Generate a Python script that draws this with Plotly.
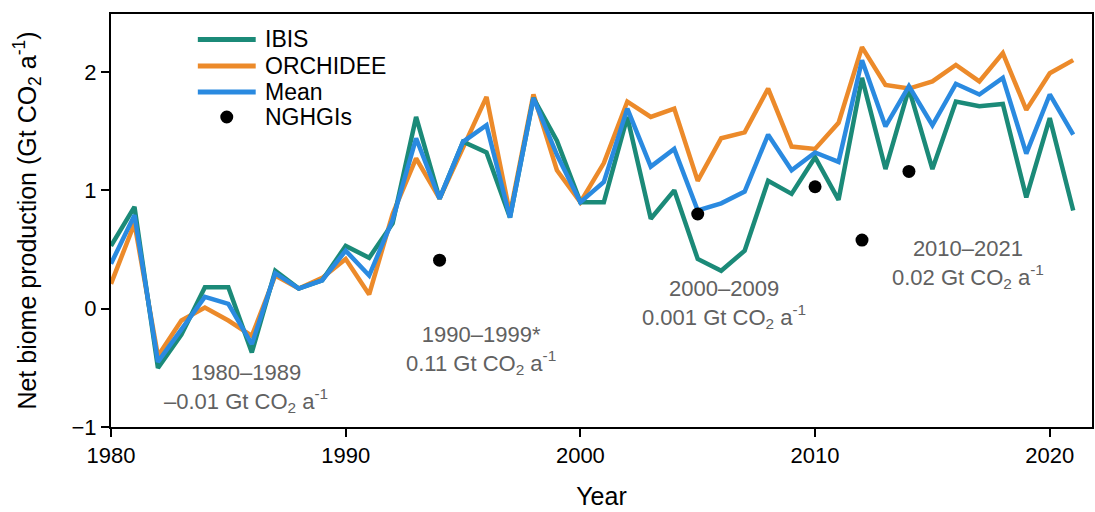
import plotly.graph_objects as go

years = list(range(1980, 2022))
ibis = [0.53, 0.86, -0.50, -0.22, 0.18, 0.18, -0.37, 0.32, 0.17, 0.24,
        0.53, 0.43, 0.72, 1.62, 0.93, 1.41, 1.32, 0.77, 1.78, 1.42,
        0.90, 0.90, 1.62, 0.76, 1.00, 0.42, 0.32, 0.49, 1.08, 0.97,
        1.28, 0.92, 1.95, 1.18, 1.86, 1.18, 1.75, 1.71, 1.73, 0.94,
        1.61, 0.83]
orchidee = [0.21, 0.72, -0.40, -0.10, 0.01, -0.10, -0.23, 0.28, 0.17, 0.26,
            0.42, 0.12, 0.80, 1.27, 0.93, 1.37, 1.79, 0.80, 1.81, 1.17,
            0.90, 1.23, 1.75, 1.62, 1.69, 1.08, 1.44, 1.49, 1.86, 1.37,
            1.35, 1.57, 2.21, 1.89, 1.86, 1.92, 2.06, 1.92, 2.16, 1.68,
            1.99, 2.10]
mean = [0.38, 0.79, -0.45, -0.18, 0.10, 0.04, -0.30, 0.30, 0.17, 0.24,
        0.49, 0.28, 0.75, 1.44, 0.93, 1.41, 1.55, 0.77, 1.78, 1.30,
        0.90, 1.07, 1.69, 1.20, 1.35, 0.83, 0.89, 0.99, 1.47, 1.17,
        1.32, 1.24, 2.10, 1.54, 1.88, 1.55, 1.90, 1.81, 1.95, 1.31,
        1.81, 1.47]
nghgi_years = [1994, 2005, 2010, 2012, 2014]
nghgi_vals = [0.41, 0.80, 1.03, 0.58, 1.16]

ann_x = [1985.75, 1995.75, 2006.1, 2016.5]
ann_y = [-0.67, -0.35, 0.04, 0.38]
ann_text = [
    "1980–1989<br>–0.01 Gt CO<sub>2</sub> a<sup>-1</sup>",
    "1990–1999*<br>0.11 Gt CO<sub>2</sub> a<sup>-1</sup>",
    "2000–2009<br>0.001 Gt CO<sub>2</sub> a<sup>-1</sup>",
    "2010–2021<br>0.02 Gt CO<sub>2</sub> a<sup>-1</sup>",
]

legend_names = ["IBIS", "ORCHIDEE", "Mean", "NGHGIs"]

C_IBIS = "#1b8a78"
C_ORCH = "#ec8a2a"
C_MEAN = "#2a8ae0"
FONT = "Liberation Sans, Arial, sans-serif"
FS = 22

fig = go.Figure()
fig.add_trace(go.Scatter(x=years, y=orchidee, mode="lines", name="ORCHIDEE",
                         line=dict(color=C_ORCH, width=4.5)))
fig.add_trace(go.Scatter(x=years, y=ibis, mode="lines", name="IBIS",
                         line=dict(color=C_IBIS, width=4.5)))
fig.add_trace(go.Scatter(x=years, y=mean, mode="lines", name="Mean",
                         line=dict(color=C_MEAN, width=4.5)))
fig.add_trace(go.Scatter(x=nghgi_years, y=nghgi_vals, mode="markers", name="NGHGIs",
                         marker=dict(color="black", size=13)))

for x, y, t in zip(ann_x, ann_y, ann_text):
    fig.add_annotation(x=x, y=y, text=t, showarrow=False,
                       font=dict(family=FONT, size=FS, color="#616161"),
                       align="center")

# custom legend (plot area: x 111..1094 px, y 14..427 px)
PW, PH = 983.0, 413.0
def px(xp):
    return (xp - 111) / PW
def py(yp):
    return (427 - yp) / PH

rows = [39.5, 66, 92, 117]
swatch_colors = [C_IBIS, C_ORCH, C_MEAN, None]
for name, r, c in zip(legend_names, rows, swatch_colors):
    if c is not None:
        fig.add_shape(type="line", xref="paper", yref="paper",
                      x0=px(198), x1=px(256), y0=py(r), y1=py(r),
                      line=dict(color=c, width=5))
    else:
        fig.add_shape(type="circle", xref="paper", yref="paper",
                      x0=px(227 - 6.5), x1=px(227 + 6.5),
                      y0=py(r + 6.5), y1=py(r - 6.5),
                      fillcolor="black", line=dict(width=0))
    fig.add_annotation(xref="paper", yref="paper", x=px(263), y=py(r),
                       xanchor="left", yanchor="middle", text=name,
                       showarrow=False, font=dict(family=FONT, size=23, color="black"))

fig.update_layout(
    width=1095, height=512,
    margin=dict(l=111, r=1, t=14, b=85),
    paper_bgcolor="white", plot_bgcolor="white",
    font=dict(family=FONT, size=FS, color="black"),
    showlegend=False,
)
fig.update_xaxes(range=[1980, 2021.8], tickvals=[1980, 1990, 2000, 2010, 2020],
                 showgrid=False, zeroline=False, showline=True, linecolor="black",
                 linewidth=2, mirror=True, ticks="outside", ticklen=8, tickwidth=1.5,
                 tickcolor="black", title=dict(text="Year", standoff=20, font=dict(size=25)),
                 tickfont=dict(size=FS))
fig.update_yaxes(range=[-1, 2.49], tickvals=[-1, 0, 1, 2],
                 showgrid=False, zeroline=False, showline=True, linecolor="black",
                 linewidth=2, mirror=True, ticks="outside", ticklen=8, tickwidth=1.5,
                 tickcolor="black",
                 title=dict(text="Net biome production (Gt CO<sub>2</sub> a<sup>-1</sup>)",
                            standoff=28, font=dict(size=25)),
                 tickfont=dict(size=FS))

fig.write_html("out.html")
